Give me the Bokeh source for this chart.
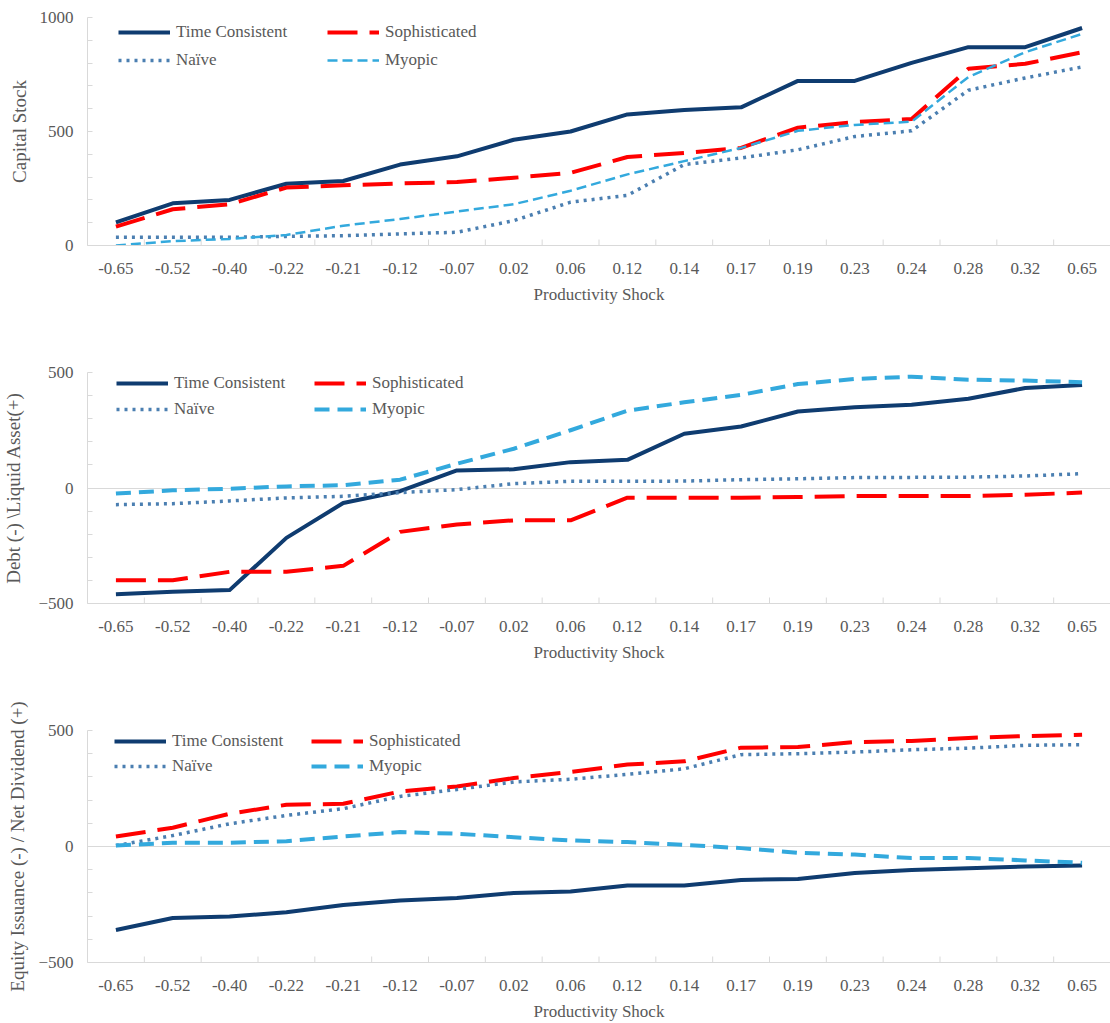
import math
from bokeh.plotting import figure
from bokeh.models import (FactorRange, Range1d, LinearAxis, CategoricalAxis, FixedTicker,
                          Legend, LegendItem, Grid)
from bokeh.layouts import column
from bokeh.embed import file_html
from bokeh.resources import INLINE

# ---------------- data ----------------
shocks = ["-0.65", "-0.52", "-0.40", "-0.22", "-0.21", "-0.12", "-0.07", "0.02", "0.06",
          "0.12", "0.14", "0.17", "0.19", "0.23", "0.24", "0.28", "0.32", "0.65"]

series_names = ["Time Consistent", "Sophisticated", "Naïve", "Myopic"]

capital_tc = [101, 185, 200, 271, 283, 355, 391, 464, 500, 575, 594, 606, 722, 722, 801, 870, 870, 954]
capital_soph = [83, 159, 181, 254, 264, 272, 278, 297, 319, 388, 406, 428, 517, 541, 555, 775, 797, 848]
capital_naive = [36, 36, 36, 40, 43, 51, 58, 109, 190, 220, 355, 384, 420, 478, 503, 681, 735, 783]
capital_myopic = [0, 19, 29, 46, 87, 116, 149, 181, 240, 312, 370, 428, 503, 529, 543, 739, 848, 928]

debt_tc = [-460, -449, -442, -216, -65, -14, 76, 81, 112, 122, 235, 266, 331, 350, 360, 386, 433, 446]
debt_soph = [-399, -399, -363, -363, -337, -190, -158, -140, -140, -42, -42, -42, -39, -35, -35, -35, -29, -20]
debt_naive = [-72, -68, -56, -43, -36, -20, -7, 19, 29, 29, 30, 36, 40, 45, 46, 47, 52, 62]
debt_myopic = [-24, -10, -3, 7, 12, 36, 105, 170, 250, 335, 371, 403, 450, 472, 482, 469, 465, 458]

equity_tc = [-360, -308, -302, -283, -252, -233, -222, -200, -194, -168, -168, -144, -140, -114, -101, -94, -86, -82]
equity_soph = [43, 81, 141, 180, 184, 237, 259, 295, 321, 353, 367, 426, 429, 450, 455, 468, 476, 482]
equity_naive = [4, 47, 98, 134, 163, 216, 246, 278, 290, 311, 335, 396, 400, 407, 417, 424, 436, 439]
equity_myopic = [4, 16, 16, 23, 43, 62, 55, 40, 26, 19, 7, -7, -27, -35, -50, -50, -60, -70]

capital_ticks = [0, 500, 1000]
capital_minor = [100, 200, 300, 400, 600, 700, 800, 900]
balance_ticks = [-500, 0, 500]
balance_minor = [-400, -300, -200, -100, 100, 200, 300, 400]

# ---------------- style ----------------
FONT = "'Liberation Serif', 'Times New Roman', serif"
TXT = "#595959"
AXC = "#D9D9D9"
NAVY = "#0F3C70"
RED = "#FF0000"
STEEL = "#4B7FB1"
SKY = "#33A9DD"


def make_legend(pairs, x, vy, spacing):
    return Legend(items=[LegendItem(label=lab, renderers=[r]) for lab, r in pairs],
                  location=(x, vy), padding=0, margin=0, spacing=spacing,
                  glyph_width=52, glyph_height=20, label_standoff=6, label_height=20,
                  label_text_font=FONT, label_text_font_size="17px", label_text_color=TXT,
                  border_line_color=None, background_fill_alpha=0)


def make_panel(ylabel, values, yr, yticks, yminor, gridlines, H, left, top, bottom,
               title_standoff, myopic_w, myopic_dash, leg_x1, leg_x2, leg_top, leg_spacing):
    p = figure(width=1110, height=H, x_range=FactorRange(*shocks), y_range=Range1d(*yr),
               output_backend="svg", toolbar_location=None,
               x_axis_location=None, y_axis_location=None,
               min_border_left=left, min_border_right=0,
               min_border_top=top, min_border_bottom=bottom)
    p.outline_line_color = None
    p.grid.visible = False
    p.background_fill_color = "white"
    p.border_fill_color = "white"

    if gridlines:
        g = Grid(dimension=1, ticker=FixedTicker(ticks=yticks), grid_line_color=AXC,
                 grid_line_width=1)
        p.add_layout(g, "center")

    yaxis = LinearAxis(ticker=FixedTicker(ticks=yticks, minor_ticks=yminor),
                       axis_label=ylabel,
                       axis_line_color=AXC, major_tick_line_color=AXC, minor_tick_line_color=AXC,
                       major_tick_in=5, major_tick_out=0, minor_tick_in=5, minor_tick_out=0,
                       major_label_standoff=14, axis_label_standoff=title_standoff,
                       major_label_text_font=FONT, major_label_text_font_size="17px",
                       major_label_text_color=TXT,
                       axis_label_text_font=FONT, axis_label_text_font_size="19px",
                       axis_label_text_font_style="normal", axis_label_text_color=TXT)
    p.add_layout(yaxis, "left")

    cat_axis = CategoricalAxis(axis_label="Productivity Shock",
                               axis_line_color=AXC, major_tick_line_color=None,
                               minor_tick_line_color=None,
                               major_label_standoff=11, axis_label_standoff=8,
                               major_label_text_font=FONT, major_label_text_font_size="17px",
                               major_label_text_color=TXT,
                               axis_label_text_font=FONT, axis_label_text_font_size="17px",
                               axis_label_text_font_style="normal", axis_label_text_color=TXT)
    p.add_layout(cat_axis, "below")

    # tick marks between categories (half of a vertical dash sticks into the frame)
    edges = [(c, 0.5) for c in shocks[:-1]]
    p.scatter(edges, [yr[0]] * len(edges), marker="dash", angle=math.pi / 2, size=12,
              line_color=AXC, line_width=1)

    tc, soph, naive, myopic = values
    r_tc = p.line(shocks, tc, line_color=NAVY, line_width=4, line_join="round")
    r_soph = p.line(shocks, soph, line_color=RED, line_width=4, line_dash="30 12",
                    line_join="round")
    r_naive = p.line(shocks, naive, line_color=STEEL, line_width=3.5, line_dash="3 5")
    r_my = p.line(shocks, myopic, line_color=SKY, line_width=myopic_w, line_dash=myopic_dash,
                  line_join="round")

    leg_h = 2 * 20 + leg_spacing
    frame_h = H - top - bottom
    vy = frame_h - leg_top - leg_h
    p.add_layout(make_legend([(series_names[0], r_tc), (series_names[2], r_naive)],
                             leg_x1, vy, leg_spacing))
    p.add_layout(make_legend([(series_names[1], r_soph), (series_names[3], r_my)],
                             leg_x2, vy, leg_spacing))
    return p


p1 = make_panel("Capital Stock",
                [capital_tc, capital_soph, capital_naive, capital_myopic],
                (0, 1000), capital_ticks, capital_minor, False,
                H=320, left=87, top=17, bottom=75, title_standoff=7,
                myopic_w=2.5, myopic_dash="10 5",
                leg_x1=31, leg_x2=240, leg_top=5, leg_spacing=8)

p2 = make_panel("Debt (-) \\Liquid Asset(+)",
                [debt_tc, debt_soph, debt_naive, debt_myopic],
                (-500, 500), balance_ticks, balance_minor, True,
                H=365, left=87, top=52, bottom=82, title_standoff=11,
                myopic_w=4, myopic_dash="15 8",
                leg_x1=29, leg_x2=227, leg_top=1, leg_spacing=6)

p3 = make_panel("Equity Issuance (-) / Net Dividend (+)",
                [equity_tc, equity_soph, equity_naive, equity_myopic],
                (-500, 500), balance_ticks, balance_minor, True,
                H=338, left=83, top=45, bottom=61, title_standoff=7,
                myopic_w=4, myopic_dash="15 8",
                leg_x1=27, leg_x2=224, leg_top=1, leg_spacing=5)

layout = column(p1, p2, p3, spacing=0)
open("out.html", "w").write(file_html(layout, INLINE))
